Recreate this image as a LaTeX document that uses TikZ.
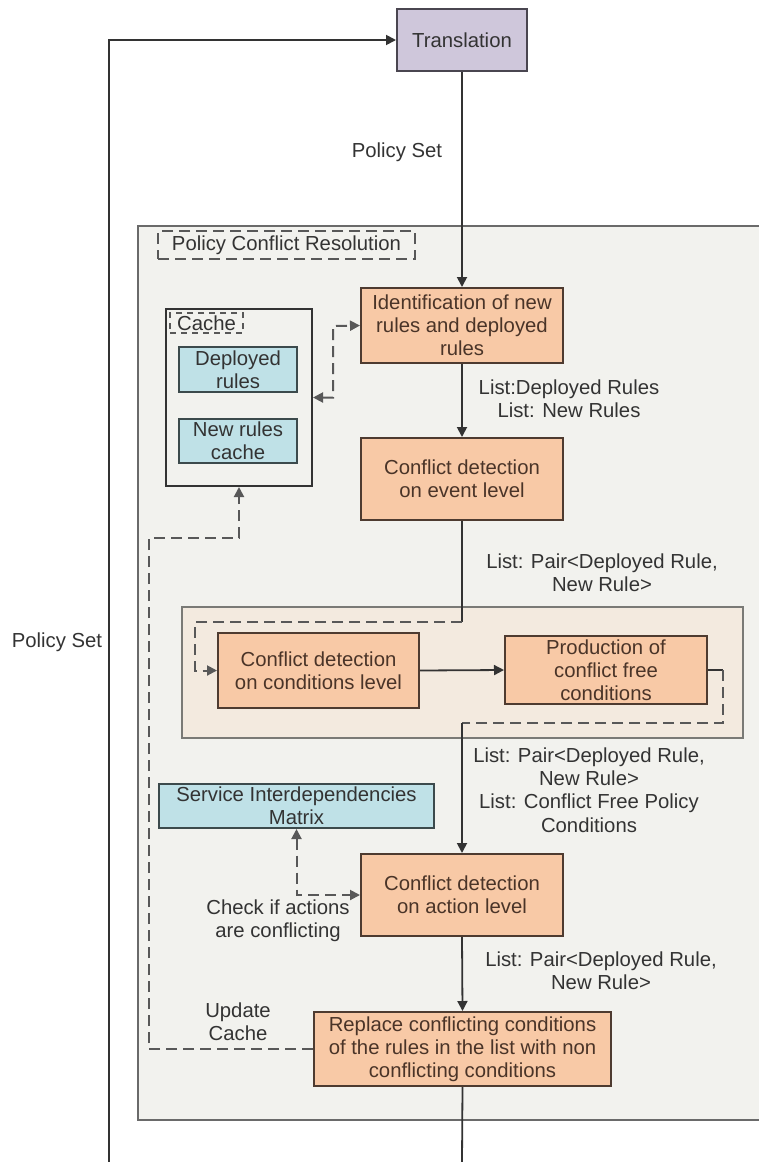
\documentclass[tikz,border=0pt]{standalone}
\usepackage{fontspec}
\setmainfont{Liberation Sans}
\usetikzlibrary{arrows.meta}
\definecolor{peach}{HTML}{F8C9A6}
\definecolor{peachline}{HTML}{4E3B30}
\definecolor{lavender}{HTML}{CFC7DB}
\definecolor{lavline}{HTML}{4A4650}
\definecolor{cyanfill}{HTML}{BFE1E7}
\definecolor{cyanline}{HTML}{3C4A4C}
\definecolor{framefill}{HTML}{F2F2EE}
\definecolor{frameline}{HTML}{6A6A6A}
\definecolor{tanfill}{HTML}{F3EADF}
\definecolor{tanline}{HTML}{7A7A76}
\definecolor{ink}{HTML}{333333}
\definecolor{dashink}{HTML}{585858}
\definecolor{boxink}{HTML}{4A3428}
\begin{document}
\begin{tikzpicture}[x=0.5pt,y=-0.5pt,
  font=\fontsize{10.15}{11.6}\selectfont,
  every node/.style={text=ink},
  procbox/.style={draw=peachline, fill=peach, line width=1pt, align=center,
    inner sep=0pt, text=boxink},
  storebox/.style={draw=cyanline, fill=cyanfill, line width=1pt, align=center,
    inner sep=0pt, text=ink},
  lbl/.style={align=center, inner sep=0pt},
  flow/.style={draw=ink, line width=0.9pt, -{Triangle[length=5pt,width=5pt]}},
  plain/.style={draw=ink, line width=0.9pt},
  dashflow/.style={draw=dashink, line width=1pt, dash pattern=on 5.5pt off 3pt},
  tip/.style={-{Triangle[length=5pt,width=5pt]}},
  bothtips/.style={{Triangle[length=5pt,width=5pt]}-{Triangle[length=5pt,width=5pt]}}
]
\useasboundingbox (0,0) rectangle (759,1162);
\clip (0,0) rectangle (759,1162);
\fill[white] (0,0) rectangle (759,1162);

% outer resolution frame (runs past the right edge)
\node[draw=frameline, fill=framefill, line width=1pt, inner sep=0pt,
  minimum width=322pt, minimum height=447pt, anchor=north west] (frame) at (137,225) {};
\node[draw=dashink, dash pattern=on 5.5pt off 3pt, line width=1pt, inner sep=0pt,
  minimum width=128.5pt, minimum height=14pt] (pcr) at (286.5,245) {Policy Conflict Resolution};

% conditions stage container
\node[draw=tanline, fill=tanfill, line width=1pt, inner sep=0pt,
  minimum width=280.5pt, minimum height=65.5pt] (tan) at (462.5,672.5) {};

% top of the chain
\node[draw=lavline, fill=lavender, line width=1pt, inner sep=0pt,
  minimum width=65pt, minimum height=31pt] (trans) at (462,40) {Translation};

% processing steps
\node[procbox, minimum width=101pt, minimum height=37.5pt] (ident) at (462,325.5)
  {Identification of new\\rules and deployed\\rules};
\node[procbox, minimum width=101pt, minimum height=41pt] (event) at (462,479)
  {Conflict detection\\on event level};
\node[procbox, minimum width=100.5pt, minimum height=37.5pt] (cond) at (318.5,670.5)
  {Conflict detection\\on conditions level};
\node[procbox, minimum width=101pt, minimum height=34pt] (prod) at (606,670)
  {Production of\\conflict free\\conditions};
\node[procbox, minimum width=101pt, minimum height=41pt] (action) at (462,895)
  {Conflict detection\\on action level};
\node[procbox, minimum width=148.5pt, minimum height=37pt] (replace) at (462.5,1049)
  {Replace conflicting conditions\\of the rules in the list with non\\conflicting conditions};

% cache store
\node[draw=ink, fill=framefill, line width=1pt, inner sep=0pt,
  minimum width=73pt, minimum height=88.5pt] (cache) at (239,397.5) {};
\node[draw=dashink, dash pattern=on 3pt off 2.5pt, line width=0.8pt, inner sep=0pt,
  minimum width=36.5pt, minimum height=10pt] (cachelbl) at (206.5,323) {Cache};
\node[storebox, minimum width=59pt, minimum height=22.5pt] (deployed) at (238,369.5)
  {Deployed\\rules};
\node[storebox, minimum width=59pt, minimum height=22pt] (newrules) at (238,441)
  {New rules\\cache};

% dependency matrix
\node[storebox, minimum width=137.5pt, minimum height=22pt] (sim) at (296.5,806)
  {Service Interdependencies\\Matrix};

% labels
\node[lbl] (ps1) at (397,152) {Policy Set};
\node[lbl] (ps2) at (57,642) {Policy Set};
\node[lbl] (l1) at (569,399) {List:Deployed Rules\\List: New Rules};
\node[lbl] (l2) at (602,573) {List: Pair<Deployed Rule,\\New Rule>};
\node[lbl] (l3) at (589,790) {List: Pair<Deployed Rule,\\New Rule>\\List: Conflict Free Policy\\Conditions};
\node[lbl] (l4) at (601,971) {List: Pair<Deployed Rule,\\New Rule>};
\node[lbl] (chk) at (278,921) {Check if actions\\are conflicting};
\node[lbl] (upd) at (238,1022) {Update\\Cache};

% free ends and bends
\coordinate (loopbot) at (109,1162);
\coordinate (outbot) at (462,1162);
\coordinate (splitin) at (462,622);
\coordinate (inleft) at (195,622);
\coordinate (inleftlow) at (195,670.5);
\coordinate (outright) at (723,670);
\coordinate (outrightlow) at (723,723);
\coordinate (mergeout) at (462,723);
\coordinate (cachebend) at (333,326);
\coordinate (cachebendlow) at (333,397.5);
\coordinate (simbend) at (296.5,895);
\coordinate (updbend) at (149,1049);
\coordinate (updtop) at (149,538);
\coordinate (updright) at (239,538);

% main flow
\draw[flow] (loopbot) |- (trans.west);
\draw[flow] (trans.south) -- (ident.north);
\draw[flow] (ident.south) -- (event.north);
\draw[plain] (event.south) -- (splitin);
\draw[dashflow, tip] (splitin) -- (inleft) -- (inleftlow) -- (cond.west);
\draw[flow] (cond.east) -- (prod.west);
\draw[plain] (prod.east) -- (outright);
\draw[dashflow] (outright) -- (outrightlow) -- (mergeout);
\draw[flow] (mergeout) -- (action.north);
\draw[flow] (action.south) -- (replace.north);
\draw[plain] (replace.south) -- (outbot);

% cache and matrix lookups
\draw[dashflow, bothtips] (cache.east) -- (cachebendlow) -- (cachebend) -- (ident.west);
\draw[dashflow, bothtips] (sim.south) -- (simbend) -- (action.west);
\draw[dashflow, tip] (replace.west) -- (updbend) -- (updtop) -- (updright) -- (cache.south);
\end{tikzpicture}
\end{document}
